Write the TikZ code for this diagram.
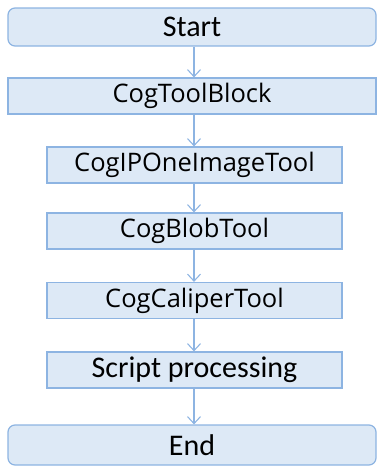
\documentclass[tikz,border=0pt]{standalone}
\usepackage{fontspec}
\setmainfont{Carlito}
\newfontfamily\toolfont{Open Sans}
\usetikzlibrary{arrows.meta}
\definecolor{boxfill}{RGB}{221,233,246}
\definecolor{boxline}{RGB}{141,180,226}
\tikzset{
  stepbox/.style={draw=boxline, fill=boxfill, line width=1.2pt, inner sep=0pt,
    minimum height=36pt, text=black},
  wide/.style={stepbox, minimum width=368pt},
  narrow/.style={stepbox, minimum width=295pt},
  terminal/.style={wide, rounded corners=7pt, font=\fontsize{30}{36}\selectfont},
  tool/.style={font=\toolfont\fontsize{25.5}{30}\selectfont},
  plain/.style={font=\fontsize{30}{36}\selectfont},
  flow/.style={draw=boxline, line width=1.1pt, -{Straight Barb[length=7pt,width=13pt]}}
}
\begin{document}
\begin{tikzpicture}[x=1pt, y=-1pt]
  \useasboundingbox (0,0) rectangle (377,466);
  \coordinate (ax) at (194,0);
  \node[terminal, minimum height=38pt] (start) at (192,27) {Start};
  \node[wide, tool] (block) at (192,96) {CogToolBlock};
  \node[narrow, tool] (ipone) at (194.5,165) {CogIPOneImageTool};
  \node[narrow, tool] (blob) at (194.5,231) {CogBlobTool};
  \node[narrow, tool] (caliper) at (194.5,300.5) {CogCaliperTool};
  \node[narrow, plain] (script) at (194.5,370) {Script processing};
  \node[terminal, minimum height=40pt] (end) at (192,445) {End};
  \foreach \a/\b in {start/block, block/ipone, ipone/blob, blob/caliper, caliper/script, script/end}
    \draw[flow] (\a.south -| ax) -- (\b.north -| ax);
\end{tikzpicture}
\end{document}
